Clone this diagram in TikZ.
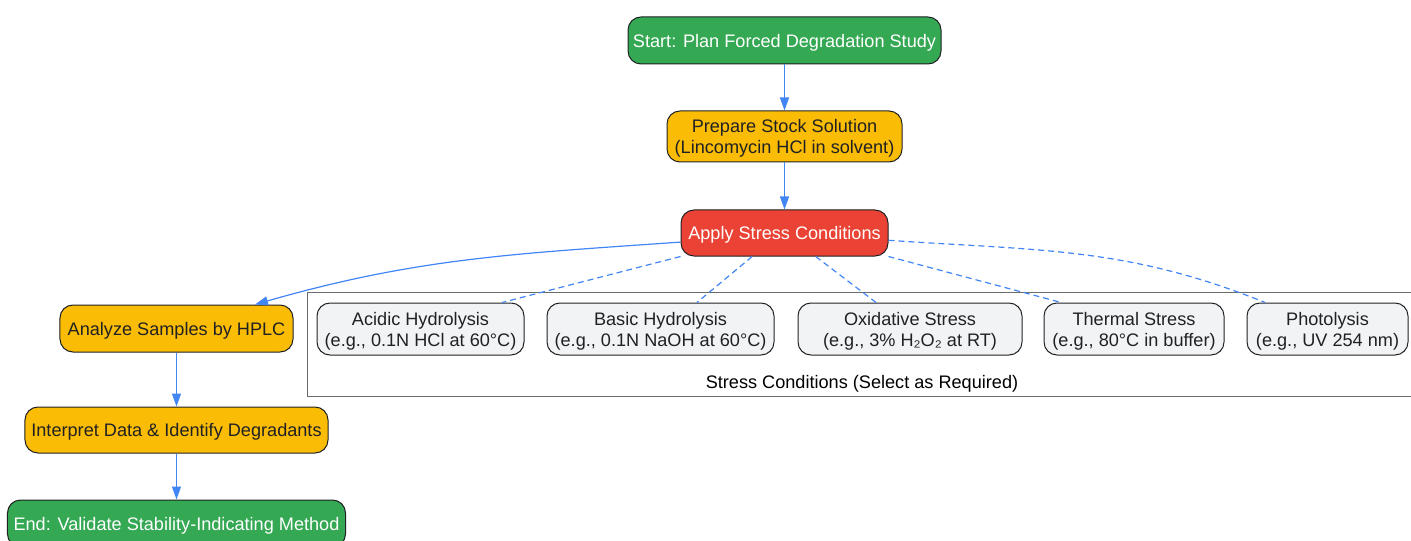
\documentclass[tikz,border=0pt]{standalone}
\usepackage{fontspec}
\setmainfont{Liberation Sans}
\usetikzlibrary{arrows.meta}
\usetikzlibrary{positioning}
\definecolor{termgreen}{HTML}{34A853}
\definecolor{procyellow}{HTML}{FBBC05}
\definecolor{stressred}{HTML}{EA4335}
\definecolor{condgray}{HTML}{F1F3F4}
\definecolor{linkblue}{HTML}{4285F4}
\definecolor{inkdark}{HTML}{202124}
\definecolor{framegray}{HTML}{6B6B6B}
\tikzset{box/.style = {draw=inkdark, line width=1bp, rounded corners=13bp, align=center,
                       inner sep=0pt, minimum height=47bp, text depth=0pt,
                       font=\fontsize{18.2}{21}\selectfont, text=inkdark},
         terminal/.style = {fill=termgreen, text=white},
         process/.style = {fill=procyellow},
         stressbox/.style = {fill=stressred, text=white},
         condition/.style = {fill=condgray, minimum height=52bp},
         link/.style = {draw=linkblue, line width=1.2bp, -{Triangle[length=13bp,width=9bp]}},
         dashlink/.style = {draw=linkblue, line width=1.2bp, dash pattern=on 6bp off 4bp}}

\begin{document}
\begin{tikzpicture}[x=1bp, y=-1bp]
      \useasboundingbox (0, 0) rectangle (1411, 541);

      \node [box, terminal, minimum width=313bp] (start) at (784.5, 40.5) {Start: Plan Forced Degradation Study};
      \node [box, process, minimum width=235bp, minimum height=51bp] (stock) at (784.5, 136.5)
        {Prepare Stock Solution\\(Lincomycin HCl in solvent)};
      \node [box, stressbox, minimum width=207bp, minimum height=46bp] (apply) at (784.5, 233) {Apply Stress Conditions};

      \node [box, process, minimum width=233bp] (hplc) at (176.5, 328.5) {Analyze Samples by HPLC};
      \node [box, process, minimum width=303bp, minimum height=46bp] (interpret) at (176.5, 430)
        {Interpret Data \& Identify Degradants};
      \node [box, terminal, minimum width=338bp] (finish) at (176.5, 523.5) {End: Validate Stability-Indicating Method};

      % stress conditions group
      \draw [framegray, line width=1bp] (307, 292) rectangle (1425, 396);
      \node [font=\fontsize{18.2}{21}\selectfont, text=black, text depth=0pt, inner sep=0pt] (group) at (862, 382)
        {Stress Conditions (Select as Required)};

      \node [box, condition, minimum width=207bp] (acidic) at (420.5, 329)
        {Acidic Hydrolysis\\(e.g., 0.1N HCl at 60°C)};
      \node [box, condition, minimum width=227bp] (basic) at (660.5, 329)
        {Basic Hydrolysis\\(e.g., 0.1N NaOH at 60°C)};
      \node [box, condition, minimum width=224bp] (oxid) at (910, 329)
        {Oxidative Stress\\(e.g., 3\% H₂O₂ at RT)};
      \node [box, condition, minimum width=180bp] (thermal) at (1134, 329)
        {Thermal Stress\\(e.g., 80°C in buffer)};
      \node [box, condition, minimum width=161bp] (photo) at (1327.5, 329)
        {Photolysis\\(e.g., UV 254 nm)};

      \draw [link] (start) -- (stock);
      \draw [link] (stock) -- (apply);
      \draw [link] (apply.185) to [out=184, in=16] (hplc.17);
      \draw [link] (hplc) -- (interpret);
      \draw [link] (interpret) -- (finish);

      \draw [dashlink] (apply.south west) -- (acidic.18);
      \draw [dashlink] (apply.216) -- (basic.36);
      \draw [dashlink] (apply.323) -- (oxid.142);
      \draw [dashlink] (apply.south east) -- (thermal.160);
      \draw [dashlink] (apply.-4) to [out=-4, in=158] (photo.157);
    \end{tikzpicture}
\end{document}
